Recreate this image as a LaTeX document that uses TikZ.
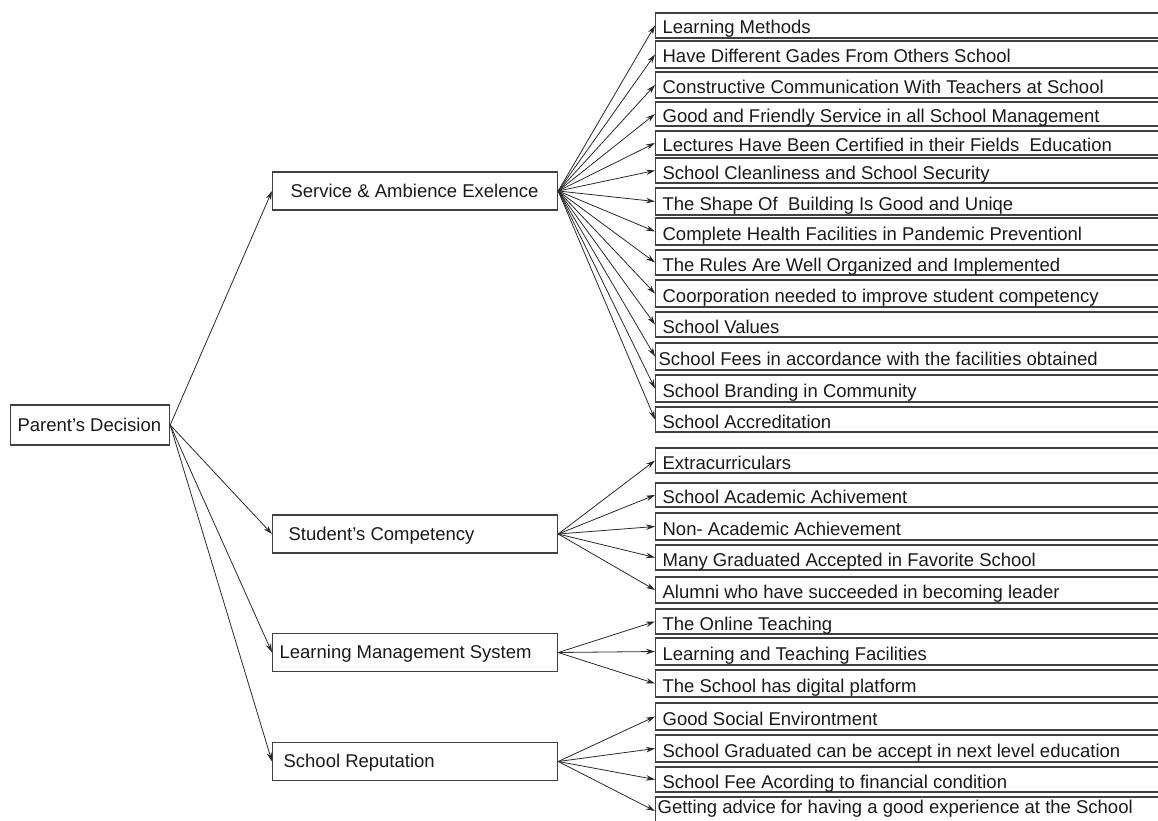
\documentclass[tikz,border=0pt]{standalone}
\usepackage{fontspec}
\setmainfont{Liberation Sans}
\usetikzlibrary{arrows.meta}
\definecolor{boxc}{HTML}{404040}
\definecolor{linec}{HTML}{2A2A2A}
\definecolor{txtc}{HTML}{1A1A1A}
\newcommand{\lbx}[2]{\makebox[#1][l]{#2}}
\tikzset{
  base/.style={draw=boxc, line width=1.2pt, anchor=west, inner ysep=0pt,
    text=txtc, font=\fontsize{18.5}{20}\selectfont},
  leaf/.style={base, inner xsep=7pt, text height=17pt, text depth=0pt},
  mid/.style={base, minimum height=38pt, text height=12pt, text depth=0pt},
  arr/.style={draw=linec, line width=0.8pt, -{Stealth[length=9pt,width=5.5pt]}},
}
\newcommand{\lf}[1]{\lbx{505pt}{#1}}
\begin{document}
\begin{tikzpicture}[x=1pt,y=-1pt]
\clip (0,0) rectangle (1158,821);
\fill[white] (0,0) rectangle (1158,821);

% root
\node[mid, minimum height=40pt, inner xsep=7pt] (pd) at (10,425) {\lbx{145pt}{Parent’s Decision}};

% middle level
\node[mid, inner xsep=18pt] (sae) at (272,191) {\lbx{249pt}{Service \& Ambience Exelence}};
\node[mid, inner xsep=16pt] (sc)  at (272,534) {\lbx{253pt}{Student’s Competency}};
\node[mid, inner xsep=7pt]  (lms) at (272,652.5) {\lbx{271pt}{Learning Management System}};
\node[mid, inner xsep=11pt] (sr)  at (272,761.5) {\lbx{263pt}{School Reputation}};

% leaves: Service & Ambience
\node[leaf, minimum height=25pt] (a1)  at (655,25.5)  {\lf{Learning Methods}};
\node[leaf, minimum height=27pt] (a2)  at (655,54.5)  {\lf{Have Different Gades From Others School}};
\node[leaf, minimum height=26pt] (a3)  at (655,85)    {\lf{Constructive Communication With Teachers at School}};
\node[leaf, minimum height=24pt] (a4)  at (655,114)   {\lf{Good and Friendly Service in all School Management}};
\node[leaf, minimum height=24pt] (a5)  at (655,143)   {\lf{Lectures Have Been Certified in their Fields\ \ Education}};
\node[leaf, minimum height=25pt] (a6)  at (655,170.5) {\lf{School Cleanliness and School Security}};
\node[leaf, minimum height=27pt] (a7)  at (655,201.5) {\lf{The Shape Of\ \ Building Is Good and Uniqe}};
\node[leaf, minimum height=27pt] (a8)  at (655,231.5) {\lf{Complete Health Facilities in Pandemic Preventionl}};
\node[leaf, minimum height=25pt] (a9)  at (655,262.5) {\lf{The Rules Are Well Organized and Implemented}};
\node[leaf, minimum height=27pt] (a10) at (655,293.5) {\lf{Coorporation needed to improve student competency}};
\node[leaf, minimum height=25pt] (a11) at (655,324.5) {\lf{School Values}};
\node[leaf, minimum height=27pt, inner xsep=3pt] (a12) at (655,356.5) {\lbx{513pt}{School Fees in accordance with the facilities obtained}};
\node[leaf, minimum height=27pt] (a13) at (655,388.5) {\lf{School Branding in Community}};
\node[leaf, minimum height=25pt] (a14) at (655,419.5) {\lf{School Accreditation}};

% leaves: Student's Competency
\node[leaf, minimum height=25pt] (b1) at (655,460.5) {\lf{Extracurriculars}};
\node[leaf, minimum height=24pt] (b2) at (655,495)   {\lf{School Academic Achivement}};
\node[leaf, minimum height=27pt] (b3) at (655,526.5) {\lf{Non- Academic Achievement}};
\node[leaf, minimum height=25pt] (b4) at (655,557.5) {\lf{Many Graduated Accepted in Favorite School}};
\node[leaf, minimum height=26pt] (b5) at (655,590)   {\lf{Alumni who have succeeded in becoming leader}};

% leaves: LMS
\node[leaf, minimum height=25pt] (c1) at (655,621.5) {\lf{The Online Teaching}};
\node[leaf, minimum height=27pt] (c2) at (655,651.5) {\lf{Learning and Teaching Facilities}};
\node[leaf, minimum height=27pt] (c3) at (655,683.5) {\lf{The School has digital platform}};

% leaves: School Reputation
\node[leaf, minimum height=27pt] (d1) at (655,716.5) {\lf{Good Social Environtment}};
\node[leaf, minimum height=27pt] (d2) at (655,748.5) {\lf{School Graduated can be accept in next level education}};
\node[leaf, minimum height=25pt] (d3) at (655,779.5) {\lf{School Fee Acording to financial condition}};
\node[leaf, minimum height=28pt, inner xsep=2pt, text height=14pt, text depth=10pt] (d4) at (655,811) {\lbx{515pt}{Getting advice for having a good experience at the School}};

% connectors
\foreach \m in {sae,sc,lms,sr} \draw[arr] (pd.east) -- (\m.west);
\foreach \i in {1,...,14} \draw[arr] (sae.east) -- (a\i.west);
\foreach \i in {1,...,5} \draw[arr] (sc.east) -- (b\i.west);
\foreach \i in {1,...,3} \draw[arr] (lms.east) -- (c\i.west);
\foreach \i in {1,...,4} \draw[arr] (sr.east) -- (d\i.west);
\end{tikzpicture}
\end{document}
